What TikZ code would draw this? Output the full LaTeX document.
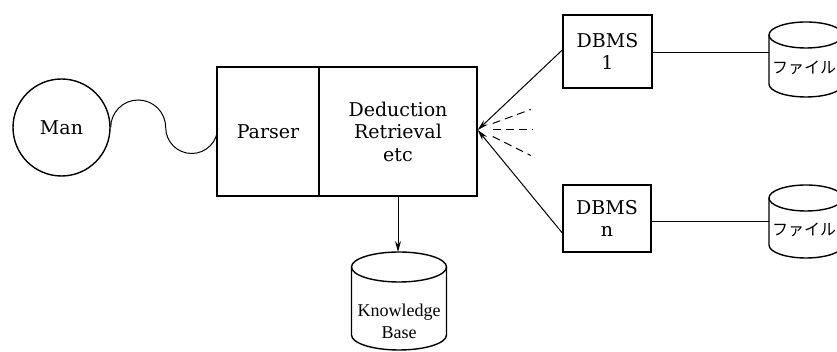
\documentclass[tikz,border=0pt]{standalone}
\usepackage{fontspec}
\newfontfamily\jpfont{Noto Sans CJK JP}
\newfontfamily\labelfont{DejaVu Serif}
\newfontfamily\kbfont{Liberation Serif}
\usetikzlibrary{arrows.meta}
\tikzset{
  outline/.style={draw, line width=1.4pt},
  boxnode/.style={outline, rectangle, inner sep=0pt},
  wire/.style={line width=1pt},
  lbl/.style={font=\labelfont\fontsize{19}{22.5}\selectfont, align=center},
  kblbl/.style={font=\kbfont\fontsize{18}{22}\selectfont, align=center},
  jplbl/.style={font=\jpfont\fontsize{16}{18}\selectfont},
  tip/.style={-{Stealth[length=11pt,width=6pt]}},
  dashline/.style={wire, dash pattern=on 8pt off 5pt}
}
\begin{document}
\begin{tikzpicture}[x=1pt,y=1pt]
\useasboundingbox (0,0) rectangle (837,352);

% Man
\node[outline, circle, minimum size=97pt, inner sep=0pt, lbl] (man) at (61.5,224.5) {Man};

% main box
\node[boxnode, minimum width=102pt, minimum height=129pt, lbl] (parser) at (268,220.5) {Parser};
\node[boxnode, minimum width=158pt, minimum height=129pt, lbl] (ded) at (398,220.5) {Deduction\\Retrieval\\etc};

% wavy link
\draw[wire] (man.east) arc[start angle=180,end angle=0,radius=27.5]
                       arc[start angle=180,end angle=360,radius=26];

% knowledge base
\coordinate (kbtop) at (399,100);
\draw[outline] (351.5,85) -- (351.5,17) arc[start angle=180,end angle=360,x radius=47.5,y radius=15] -- (446.5,85);
\draw[outline] (399,85) ellipse[x radius=47.5,y radius=15];
\node[kblbl] (kb) at (399,31) {Knowledge\\Base};
\draw[wire, tip] (ded.south) -- (ded.south |- kbtop);

% DBMS boxes
\node[boxnode, minimum width=89pt, minimum height=73pt, lbl] (dbms1) at (607.5,300.5) {DBMS\\1};
\node[boxnode, minimum width=88pt, minimum height=67pt, lbl] (dbmsn) at (607,133.5) {DBMS\\n};

% fan into the box
\draw[wire, tip] ([yshift=1.5pt]dbms1.west) -- ([yshift=1.5pt]ded.east);
\draw[wire, tip] ([yshift=-14.5pt]dbmsn.west) -- ([yshift=1.5pt]ded.east);
\draw[dashline] ([shift={(15,8)}]ded.east) -- ++(38,14);
\draw[dashline] ([shift={(15,1.5)}]ded.east) -- ++(40,0);
\draw[dashline] ([shift={(15,-5)}]ded.east) -- ++(38,-19);

% files
\draw[outline] (769,317) -- (769,268) arc[start angle=180,end angle=360,x radius=37,y radius=13] -- (843,317);
\draw[outline] (806,317) ellipse[x radius=37,y radius=13];
\node[jplbl] (file1) at (804,284) {ファイル};
\coordinate (f1in) at (769,299);

\draw[outline] (769,154) -- (769,107) arc[start angle=180,end angle=360,x radius=37,y radius=13] -- (843,154);
\draw[outline] (806,154) ellipse[x radius=37,y radius=13];
\node[jplbl] (filen) at (804,122) {ファイル};
\coordinate (fnin) at (769,130);

\draw[wire] (dbms1.east |- f1in) -- (f1in);
\draw[wire] (dbmsn.east |- fnin) -- (fnin);
\end{tikzpicture}
\end{document}
